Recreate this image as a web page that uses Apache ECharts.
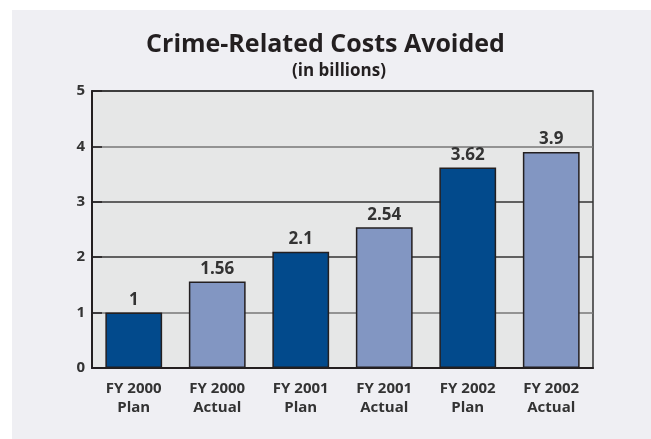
<!DOCTYPE html>
<html>
<head>
<meta charset="utf-8">
<script src="https://cdn.jsdelivr.net/npm/echarts@6/dist/echarts.min.js"></script>
<style>
  html, body { margin: 0; padding: 0; background: #fff; }
  #chart { width: 651px; height: 439px; }
</style>
</head>
<body>
<div id="chart"></div>
<script>
// 数据
var categories = ['FY 2000\nPlan', 'FY 2000\nActual', 'FY 2001\nPlan', 'FY 2001\nActual', 'FY 2002\nPlan', 'FY 2002\nActual'];
var values = [1, 1.56, 2.1, 2.54, 3.62, 3.9];
var yTicks = [0, 1, 2, 3, 4, 5];

(function () {
	var myChart = echarts.init(document.getElementById('chart'));
	var font = '"Open Sans", sans-serif';
	var barColors = ['#024a8c', '#8296c2'];

	var option = {
		backgroundColor: '#ffffff',
		animation: false,
		// 灰色底板
		graphic: [{
			type: 'rect',
			left: 12,
			top: 10,
			shape: { width: 651, height: 439 },
			style: { fill: '#efeff3' },
			z: -10
		}],
		title: [{
			text: 'Crime-Related Costs Avoided',
			left: 'center',
			top: 32,
			padding: 0,
			textStyle: { fontFamily: font, fontSize: 25, fontWeight: 'bold', color: '#231f20' }
		}, {
			text: '(in billions)',
			left: 292,
			top: 63,
			padding: 0,
			textStyle: { fontFamily: font, fontSize: 17, fontWeight: 'bold', color: '#231f20' }
		}],
		grid: {
			left: 92,
			top: 91,
			right: 58,
			bottom: 71,
			show: true,
			backgroundColor: '#e6e7e7',
			borderColor: '#333',
			borderWidth: 1.5
		},
		xAxis: {
			type: 'category',
			data: categories,
			axisLine: { lineStyle: { color: '#231f20', width: 2 } },
			axisTick: { show: false },
			axisLabel: {
				fontFamily: font,
				fontSize: 15,
				fontWeight: 'bold',
				color: '#333',
				lineHeight: 19,
				margin: 11,
				interval: 0
			}
		},
		yAxis: {
			type: 'value',
			min: yTicks[0],
			max: yTicks[yTicks.length - 1],
			interval: 1,
			axisLine: { show: true, lineStyle: { color: '#231f20', width: 2 } },
			axisTick: { show: true, inside: true, length: 10, lineStyle: { color: '#231f20', width: 1.5 } },
			axisLabel: {
				fontFamily: font,
				fontSize: 15,
				fontWeight: 'bold',
				color: '#333',
				margin: 7
			},
			splitLine: {
				lineStyle: { color: ['#333', '#777', '#333', '#333', '#777', '#333'], width: 1.5 }
			}
		},
		series: [{
			type: 'bar',
			data: values,
			barWidth: '68%',
			itemStyle: {
				color: function (params) {
					return barColors[params.dataIndex % 2];
				},
				borderColor: '#231f20',
				borderWidth: 1.5
			},
			label: {
				show: true,
				position: 'top',
				distance: 4,
				fontFamily: font,
				fontSize: 17,
				fontWeight: 'bold',
				color: '#333'
			}
		}]
	};
	myChart.setOption(option);
})();
</script>
</body>
</html>
